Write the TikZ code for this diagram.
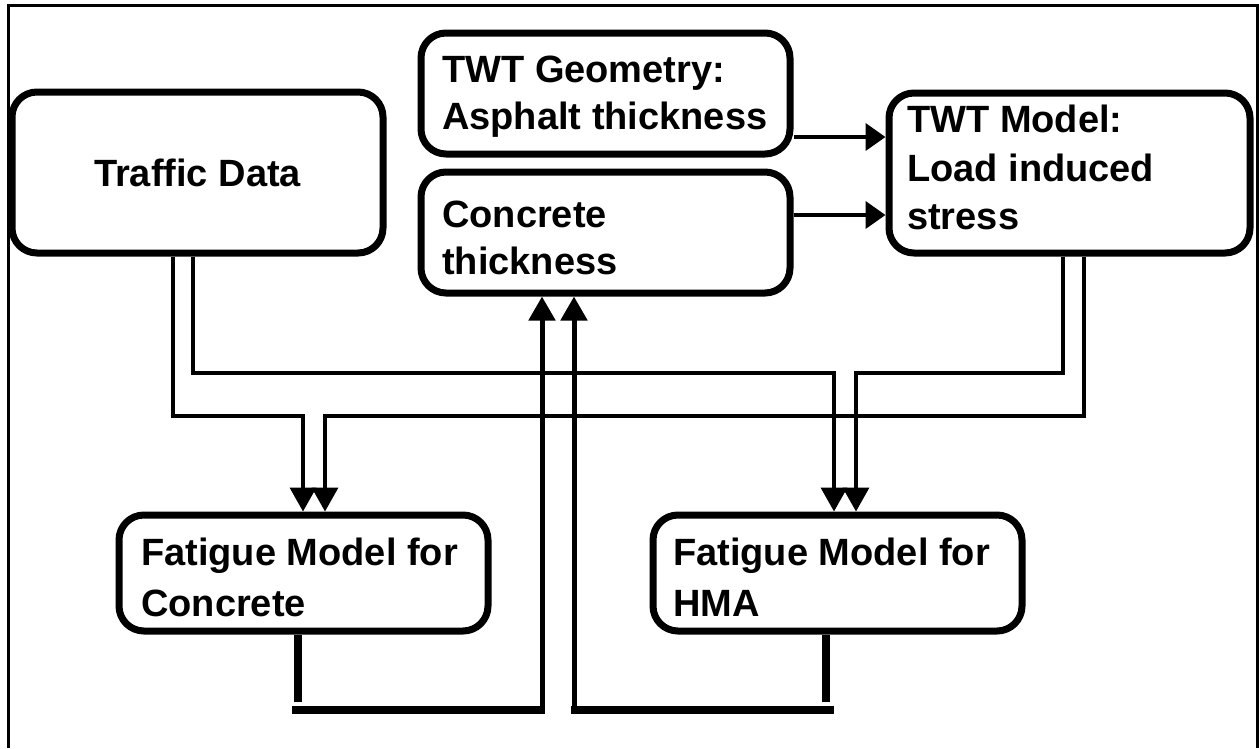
\documentclass[tikz,border=0pt]{standalone}
\usepackage{fontspec}
\setmainfont{Liberation Sans}
\usetikzlibrary{arrows.meta}
\begin{document}
\begin{tikzpicture}[x=1pt,y=-1pt,
  box/.style={draw, line width=7pt, rounded corners=25pt},
  txt/.style={font=\fontsize{38}{47}\selectfont\bfseries, align=left, inner sep=0pt},
  conn/.style={line width=3.5pt, line join=miter, -{Triangle[length=24pt,width=26pt]}},
  harrow/.style={line width=4pt, -{Triangle[length=20pt,width=27pt]}},
  uparrow/.style={line width=5pt, -{Triangle[length=24pt,width=26pt]}},
  thickline/.style={line width=8pt}]
\useasboundingbox (0,0) rectangle (1259,748);
\draw[line width=3pt] (8,748) -- (8,5) -- (1257,5) -- (1257,748);
% boxes
\node[box, minimum width=371pt, minimum height=161pt] (traffic) at (197.5,172.5) {};
\node[box, minimum width=369pt, minimum height=121pt] (geom) at (605.5,93.5) {};
\node[box, minimum width=369pt, minimum height=121pt] (conc) at (605.5,232.5) {};
\node[box, minimum width=361pt, minimum height=160pt] (twt) at (1069.5,173) {};
\node[box, minimum width=369pt, minimum height=116pt] (fc) at (303.5,573) {};
\node[box, minimum width=369pt, minimum height=116pt] (fh) at (837.5,573) {};
% texts
\node[txt] (ttraffic) at (traffic.center) {Traffic Data};
\node[txt, anchor=north west] (tgeom) at (442,56) {TWT Geometry:\\Asphalt thickness};
\node[txt, anchor=north west] (tconc) at (442,201) {Concrete\\thickness};
\node[txt, anchor=north west, font=\fontsize{38}{48.5}\selectfont\bfseries] (ttwt) at (907,105) {TWT Model:\\Load induced\\stress};
\node[txt, anchor=north west, font=\fontsize{38}{51}\selectfont\bfseries] (tfc) at (141,538) {Fatigue Model for\\Concrete};
\node[txt, anchor=north west, font=\fontsize{38}{51}\selectfont\bfseries] (tfh) at (673,538) {Fatigue Model for\\HMA};
% connectors to fatigue boxes
\draw[conn] (173,0 |- traffic.south) |- (303,416) -- (303,0 |- fc.north);
\draw[conn] (193,0 |- traffic.south) |- (834,373) -- (834,0 |- fh.north);
\draw[conn] (1063,0 |- twt.south) |- (856,373) -- (856,0 |- fh.north);
\draw[conn] (1084,0 |- twt.south) |- (325,416) -- (325,0 |- fc.north);
% horizontal arrows into TWT model
\draw[harrow] (geom.east |- 0,137) -- (twt.west |- 0,137);
\draw[harrow] (conc.east |- 0,215) -- (twt.west |- 0,215);
% feedback from fatigue boxes
\coordinate (fcend) at (298,702);
\coordinate (fhend) at (826,702);
\draw[thickline] (298,0 |- fc.south) -- (fcend);
\draw[thickline] (826,0 |- fh.south) -- (fhend);
\draw[thickline] (292,710) -- (545,710);
\draw[thickline] (571,710) -- (834,710);
\draw[uparrow] (542,714) -- (542,0 |- conc.south);
\draw[uparrow] (574,714) -- (574,0 |- conc.south);
\end{tikzpicture}
\end{document}
